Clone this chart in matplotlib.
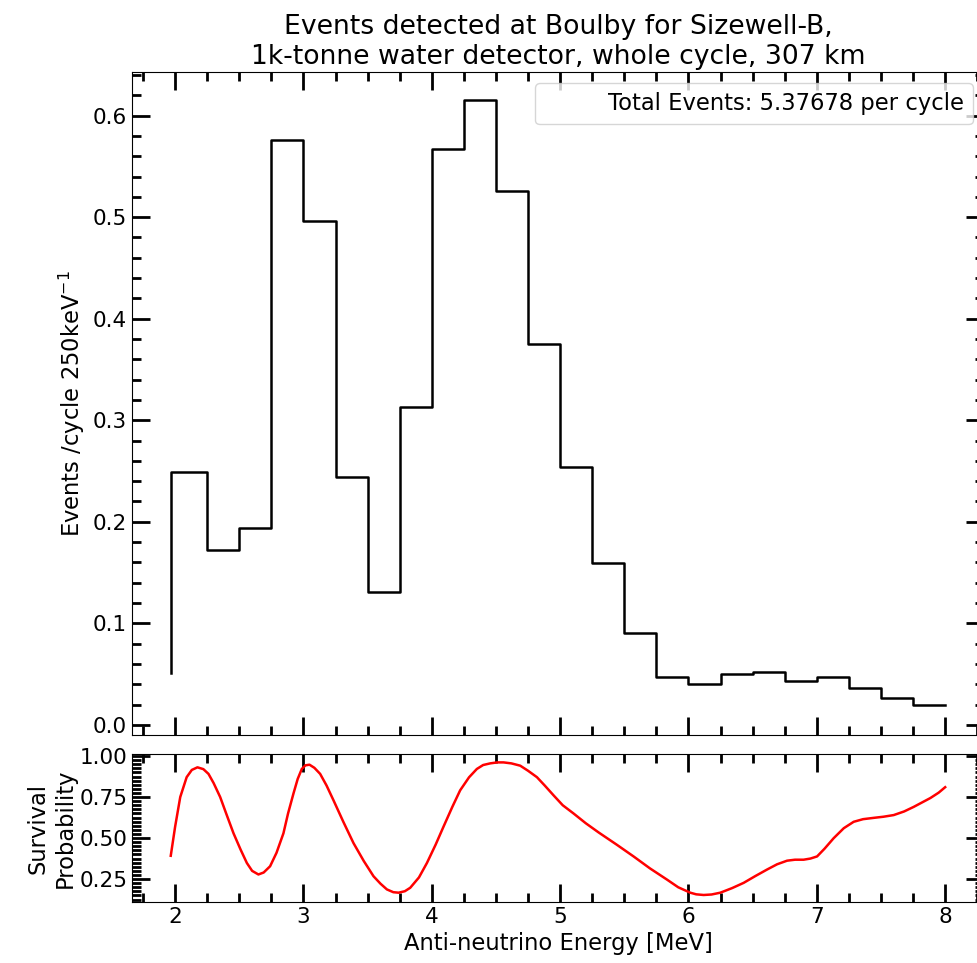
import numpy as np
import matplotlib.pyplot as plt
from matplotlib.ticker import MultipleLocator

# histogram edges (MeV) and events per 250 keV bin
edges = [1.966, 2.25, 2.5, 2.75, 3.0, 3.25, 3.5, 3.75, 4.0, 4.25, 4.5, 4.75,
         5.0, 5.25, 5.5, 5.75, 6.0, 6.25, 6.5, 6.75, 7.0, 7.25, 7.5, 7.75, 8.0]
events = [0.051, 0.249, 0.172, 0.194, 0.576, 0.496, 0.244, 0.131, 0.313, 0.567,
          0.615, 0.526, 0.375, 0.254, 0.159, 0.090, 0.047, 0.040, 0.050, 0.052,
          0.043, 0.047, 0.036, 0.026, 0.020]

# survival probability
energy = [1.966, 2.0, 2.04, 2.09, 2.13, 2.174, 2.22, 2.26, 2.30, 2.351,
          2.40, 2.455, 2.51, 2.559, 2.60, 2.649, 2.69, 2.74, 2.79, 2.844,
          2.88, 2.922, 2.955, 2.987, 3.015, 3.047, 3.085, 3.13, 3.18, 3.234,
          3.31, 3.39, 3.47, 3.546, 3.60, 3.65, 3.70, 3.741, 3.79, 3.832,
          3.90, 3.962, 4.03, 4.091, 4.16, 4.221, 4.29, 4.351, 4.40, 4.455,
          4.51, 4.559, 4.62, 4.689, 4.75, 4.819, 4.88, 4.949, 5.02, 5.104,
          5.20, 5.30, 5.44, 5.572, 5.70, 5.832, 5.92, 6.014, 6.06, 6.118,
          6.18, 6.248, 6.34, 6.43, 6.52, 6.612, 6.69, 6.768, 6.83, 6.897,
          6.95, 7.002, 7.06, 7.131, 7.21, 7.287, 7.36, 7.443, 7.52, 7.599,
          7.68, 7.755, 7.885, 7.95, 8.0]
prob = [0.392, 0.569, 0.75, 0.871, 0.915, 0.931, 0.92, 0.891, 0.835, 0.75,
        0.645, 0.529, 0.43, 0.348, 0.300, 0.278, 0.290, 0.328, 0.41, 0.529,
        0.65, 0.771, 0.86, 0.921, 0.943, 0.947, 0.928, 0.891, 0.82, 0.73,
        0.60, 0.469, 0.36, 0.267, 0.222, 0.187, 0.170, 0.167, 0.176, 0.197,
        0.26, 0.348, 0.46, 0.569, 0.69, 0.791, 0.87, 0.921, 0.945, 0.955,
        0.961, 0.961, 0.955, 0.941, 0.91, 0.871, 0.82, 0.76, 0.70, 0.65,
        0.59, 0.534, 0.46, 0.388, 0.315, 0.247, 0.200, 0.167, 0.157, 0.153,
        0.156, 0.167, 0.195, 0.227, 0.268, 0.308, 0.340, 0.362, 0.368, 0.368,
        0.375, 0.388, 0.435, 0.499, 0.56, 0.599, 0.615, 0.623, 0.630, 0.64,
        0.662, 0.69, 0.744, 0.777, 0.81]

total = "Total Events: 5.37678 per cycle"

plt.rcParams["font.family"] = "DejaVu Sans"

fig = plt.figure(figsize=(9.77, 9.63), dpi=100)
ax1 = fig.add_axes([0.1351, 0.2368, 0.872, 0.6885])
ax2 = fig.add_axes([0.1351, 0.0633, 0.872, 0.1537], sharex=ax1)

ax1.step(edges, events, where="pre", color="black", lw=1.8)
ax1.plot([], [], " ", label=total)
ax1.legend(loc="upper right", fontsize=16.3)
ax1.set_ylim(-0.01, 0.643)
ax1.set_ylabel("Events /cycle 250keV$^{-1}$", fontsize=16.3)
ax1.set_title("Events detected at Boulby for Sizewell-B,\n"
              "1k-tonne water detector, whole cycle, 307 km", fontsize=19.2)
ax1.yaxis.set_minor_locator(MultipleLocator(0.02))
ax1.tick_params(labelbottom=False)

ax2.plot(energy, prob, color="red", lw=1.8, solid_joinstyle="round")
ax2.set_ylim(0.11, 1.012)
ax2.set_yticks([0.25, 0.5, 0.75, 1.0])
ax2.yaxis.set_minor_locator(MultipleLocator(0.025))
ax2.set_ylabel("Survival\nProbability", fontsize=16.3, labelpad=2)
ax2.set_xlabel("Anti-neutrino Energy [MeV]", fontsize=16.3)

ax1.set_xlim(1.664, 8.302)
ax1.xaxis.set_major_locator(MultipleLocator(1))
ax1.xaxis.set_minor_locator(MultipleLocator(0.25))

for ax in (ax1, ax2):
    ax.tick_params(which="both", direction="in", top=True, right=True,
                   labelsize=15.5)
    ax.tick_params(which="major", length=13, width=2)
    ax.tick_params(which="minor", length=6.5, width=2)

fig.savefig("out.png", dpi=100)
